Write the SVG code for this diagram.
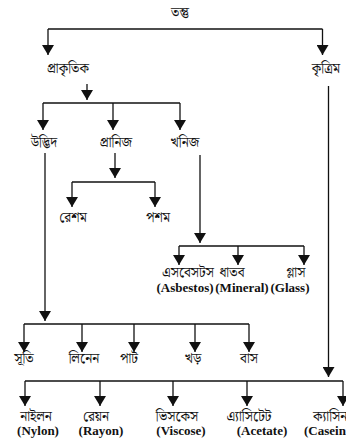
<svg xmlns="http://www.w3.org/2000/svg" width="346" height="440" viewBox="0 0 346 440">
<style>
.bn{font-family:"Noto Serif Bengali","Noto Sans Bengali","Lohit Bengali","Noto Sans","Liberation Serif",serif;font-size:13.5px;fill:#111;text-anchor:middle}
.en{font-family:"Liberation Serif","Times New Roman",serif;font-size:13px;font-weight:bold;fill:#111;text-anchor:middle}
.ln{stroke:#111;stroke-width:1.3;fill:none}
</style>
<defs>
<marker id="ah" viewBox="0 0 10 12" refX="10" refY="6" markerWidth="10" markerHeight="12" markerUnits="userSpaceOnUse" orient="auto">
<path d="M0,0 L10,6 L0,12 Z" fill="#111"/>
</marker>
</defs>
<rect width="346" height="440" fill="#fff"/>
<g id="connectors" class="ln">
<path d="M48,29 H322.5"/>
<path d="M48,29 V55" marker-end="url(#ah)"/>
<path d="M322.5,29 V55" marker-end="url(#ah)"/>
<path d="M87,84 V100" marker-end="url(#ah)"/>
<path d="M43,103 H180"/>
<path d="M43,103 V130" marker-end="url(#ah)"/>
<path d="M113,103 V130" marker-end="url(#ah)"/>
<path d="M180,103 V130" marker-end="url(#ah)"/>
<path d="M115,153 V178" marker-end="url(#ah)"/>
<path d="M72,182 H155"/>
<path d="M72,182 V207" marker-end="url(#ah)"/>
<path d="M155,182 V207" marker-end="url(#ah)"/>
<path d="M200,155 V243" marker-end="url(#ah)"/>
<path d="M179,246 H304"/>
<path d="M179,246 V265" marker-end="url(#ah)"/>
<path d="M238,246 V265" marker-end="url(#ah)"/>
<path d="M304,246 V265" marker-end="url(#ah)"/>
<path d="M45,153 V321" marker-end="url(#ah)"/>
<path d="M24,324 H249"/>
<path d="M24,324 V352" marker-end="url(#ah)"/>
<path d="M82,324 V352" marker-end="url(#ah)"/>
<path d="M134,324 V352" marker-end="url(#ah)"/>
<path d="M195,324 V352" marker-end="url(#ah)"/>
<path d="M249,324 V352" marker-end="url(#ah)"/>
<path d="M328.5,86 V377" marker-end="url(#ah)"/>
<path d="M25,381 H343"/>
<path d="M25,381 V406" marker-end="url(#ah)"/>
<path d="M100,381 V406" marker-end="url(#ah)"/>
<path d="M173,381 V406" marker-end="url(#ah)"/>
<path d="M247,381 V406" marker-end="url(#ah)"/>
<path d="M343,381 V406" marker-end="url(#ah)"/>
</g>
<g id="n-tantu"><text class="bn" x="180" y="17">তন্তু</text></g>
<g id="n-prakritik"><text class="bn" x="68" y="73">প্রাকৃতিক</text></g>
<g id="n-kritrim"><text class="bn" x="326" y="73">কৃত্রিম</text></g>
<g id="n-udbhid"><text class="bn" x="44" y="147">উদ্ভিদ</text></g>
<g id="n-pranij"><text class="bn" x="116" y="147">প্রানিজ</text></g>
<g id="n-khanij"><text class="bn" x="185" y="147">খনিজ</text></g>
<g id="n-resham"><text class="bn" x="73" y="222">রেশম</text></g>
<g id="n-posham"><text class="bn" x="158" y="222">পশম</text></g>
<g id="n-asbestos"><text class="bn" x="188" y="277">এসবেসটস</text><text class="en" x="185" y="292">(Asbestos)</text></g>
<g id="n-mineral"><text class="bn" x="232" y="277">ধাতব</text><text class="en" x="242" y="292">(Mineral)</text></g>
<g id="n-glass"><text class="bn" x="296" y="277">গ্লাস</text><text class="en" x="290" y="292">(Glass)</text></g>
<g id="n-suti"><text class="bn" x="24" y="363">সূতি</text></g>
<g id="n-linen"><text class="bn" x="84" y="363">লিনেন</text></g>
<g id="n-pat"><text class="bn" x="129" y="363">পাট</text></g>
<g id="n-khar"><text class="bn" x="193" y="363">খড়</text></g>
<g id="n-bas"><text class="bn" x="249" y="363">বাস</text></g>
<g id="n-nylon"><text class="bn" x="36" y="421">নাইলন</text><text class="en" x="38" y="435">(Nylon)</text></g>
<g id="n-rayon"><text class="bn" x="96" y="421">রেয়ন</text><text class="en" x="101" y="435">(Rayon)</text></g>
<g id="n-viscose"><text class="bn" x="177" y="421">ভিসকেস</text><text class="en" x="181" y="435">(Viscose)</text></g>
<g id="n-acetate"><text class="bn" x="249" y="421">এ্যাসিটেট</text><text class="en" x="262" y="435">(Acetate)</text></g>
<g id="n-casein"><text class="bn" x="313" y="421" style="text-anchor:start">ক্যাসিন</text><text class="en" x="304" y="435" style="text-anchor:start">(Casein)</text></g>
</svg>
